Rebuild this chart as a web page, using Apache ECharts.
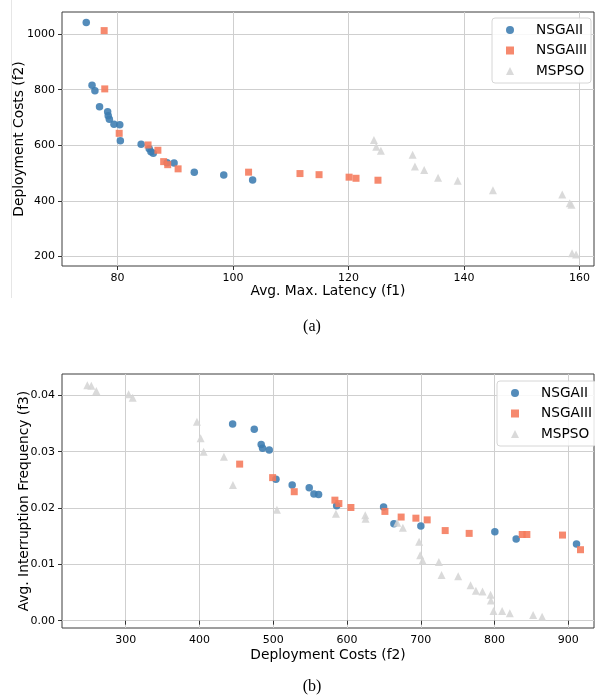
<!DOCTYPE html>
<html>
<head>
<meta charset="utf-8">
<script src="https://cdn.jsdelivr.net/npm/echarts@6/dist/echarts.min.js"></script>
<style>
    html, body { margin: 0; padding: 0; background: #fff; }
    #main { width: 595px; height: 698px; }
</style>
</head>
<body>
<div id="main"></div>
<script>
// (a) latency f1 vs deployment cost f2, [f1, f2]
var nsga2_a = [[74.6, 1042], [75.6, 816], [76.1, 796], [76.9, 739], [78.3, 721], [78.4, 706], [78.6, 694],
    [79.4, 676], [80.4, 674], [80.5, 616], [84.1, 604], [85.5, 587], [85.8, 577], [86.2, 571], [88.6, 537],
    [89.8, 536], [93.3, 503], [98.4, 493], [103.4, 475]];
var nsga3_a = [[77.7, 1013], [77.8, 803], [80.3, 643], [85.3, 601], [87.0, 582], [88.0, 541], [88.7, 530],
    [90.5, 515], [102.7, 503], [111.6, 498], [114.9, 494], [120.1, 485], [121.3, 481], [125.1, 474]];
var mspso_a = [[124.4, 619], [124.8, 595], [125.6, 580], [131.1, 566], [131.5, 523], [133.1, 511], [135.5, 483],
    [138.9, 472], [145.0, 438], [157.0, 423], [158.3, 391], [158.6, 386], [158.7, 211], [159.4, 206]];

// (b) deployment cost f2 vs interruption frequency f3, [f2, f3]
var nsga2_b = [[445, 0.0349], [474.3, 0.0340], [483.7, 0.0313], [485.6, 0.0306], [494.6, 0.0303], [503.7, 0.0251],
    [525.7, 0.0241], [548.8, 0.0236], [555.2, 0.0225], [561.5, 0.0224], [586, 0.0204], [649.6, 0.0202],
    [663.6, 0.0172], [700.1, 0.0168], [800.4, 0.0158], [829.3, 0.0145], [911.1, 0.0136]];
var nsga3_b = [[454.5, 0.0278], [499.2, 0.0254], [528.5, 0.0229], [583.6, 0.0214], [589, 0.0208], [605.3, 0.0201],
    [651.4, 0.0194], [673.4, 0.0184], [693.4, 0.0182], [708.7, 0.0179], [733.1, 0.0160], [765.6, 0.0155],
    [837.5, 0.0153], [843.8, 0.0153], [892.1, 0.0152], [916.5, 0.0126]];
var mspso_b = [[248, 0.0418], [253.4, 0.0417], [260.2, 0.0408], [304, 0.0402], [309.5, 0.0396], [396.6, 0.0353],
    [401.6, 0.0324], [405.7, 0.0300], [433.2, 0.0291], [445.4, 0.0241], [505, 0.0197], [585, 0.0190],
    [624.7, 0.0187], [625.2, 0.0181], [668, 0.0174], [675.7, 0.0165], [697.8, 0.0140], [699.2, 0.0116],
    [702.4, 0.0107], [724.5, 0.0104], [728.2, 0.0081], [750.7, 0.0079], [767.5, 0.0063], [774.7, 0.0053],
    [783.7, 0.0052], [794.6, 0.0046], [795, 0.0036], [798.6, 0.0017], [810.3, 0.0017], [820.7, 0.0013],
    [852.3, 0.0010], [864.5, 0.0007]];

// tick values / labels
var f1Ticks = [80, 100, 120, 140, 160];
var f2TicksA = [200, 400, 600, 800, 1000];
var f2TicksB = [300, 400, 500, 600, 700, 800, 900];
var f3Ticks = [0, 0.01, 0.02, 0.03, 0.04];
var f3TickLabels = ['0.00', '0.01', '0.02', '0.03', '0.04'];

var legendNames = ['NSGAII', 'NSGAIII', 'MSPSO'];

var FONT = 'DejaVu Sans';
var blue = '#3c7cb1',
    orange = '#f5795a',
    grey = '#d5d5d5';

var myChart = echarts.init(document.getElementById('main'), null, {renderer: 'canvas'});

function plainLabel(v) {
    return String(v);
}

function makeAxis(gridIndex, ticks, min, max, name, gap, formatter) {
    return {
        type: 'value',
        gridIndex: gridIndex,
        min: min,
        max: max,
        name: name,
        nameLocation: 'middle',
        nameGap: gap,
        nameMoveOverlap: false,
        nameTextStyle: {fontFamily: FONT, fontSize: 13.8, color: '#000'},
        axisLine: {show: false},
        axisTick: {show: true, length: 4, customValues: ticks, lineStyle: {color: '#333'}},
        axisLabel: {
            customValues: ticks, margin: 7, fontFamily: FONT, fontSize: 11, color: '#000',
            formatter: formatter || plainLabel
        },
        splitLine: {show: true, lineStyle: {color: '#cfcfcf', width: 1}}
    };
}

function makeLegend(left, top) {
    return {
        orient: 'vertical',
        left: left,
        top: top,
        padding: [4, 4, 4, 14],
        itemWidth: 8,
        itemHeight: 8,
        itemGap: 4.5,
        backgroundColor: 'rgba(255,255,255,0.85)',
        borderColor: '#d6d6d6',
        borderWidth: 1,
        borderRadius: 3,
        textStyle: {fontFamily: FONT, fontSize: 13.7, color: '#000', lineHeight: 16, padding: [0, 0, 0, 17]},
        data: legendNames
    };
}

function scatter(name, xi, data, symbol, size, color) {
    return {
        name: name,
        type: 'scatter',
        xAxisIndex: xi,
        yAxisIndex: xi,
        symbol: symbol,
        symbolSize: size,
        itemStyle: {color: color, opacity: 0.88},
        data: data
    };
}

var option = {
    backgroundColor: '#fff',
    animation: false,
    grid: [
        {left: 62, top: 12, right: 1, height: 254, show: true, borderColor: '#3d3d3d', borderWidth: 1},
        {left: 62, top: 374, right: 1, height: 254, show: true, borderColor: '#3d3d3d', borderWidth: 1}
    ],
    xAxis: [
        makeAxis(0, f1Ticks, 70.4, 162.5, 'Avg. Max. Latency (f1)', 18),
        makeAxis(1, f2TicksB, 213.7, 934.8, 'Deployment Costs (f2)', 20)
    ],
    yAxis: [
        makeAxis(0, f2TicksA, 165, 1080, 'Deployment Costs (f2)', 36),
        makeAxis(1, f3Ticks, -0.0013, 0.0438, 'Avg. Interruption Frequency (f3)', 31, function (v) {
            var i = f3Ticks.indexOf(v);
            return i >= 0 ? f3TickLabels[i] : v.toFixed(2);
        })
    ],
    legend: [makeLegend(492, 18), makeLegend(497, 381)],
    series: [
        scatter('NSGAII', 0, nsga2_a, 'circle', 7.5, blue),
        scatter('NSGAIII', 0, nsga3_a, 'rect', 7, orange),
        scatter('MSPSO', 0, mspso_a, 'triangle', 8, grey),
        scatter('NSGAII', 1, nsga2_b, 'circle', 7.5, blue),
        scatter('NSGAIII', 1, nsga3_b, 'rect', 7, orange),
        scatter('MSPSO', 1, mspso_b, 'triangle', 8, grey)
    ],
    graphic: [
        {type: 'line', shape: {x1: 11.5, y1: 0, x2: 11.5, y2: 298}, style: {stroke: '#e6e6e6', lineWidth: 1}},
        {type: 'text', x: 312, y: 327, style: {text: '(a)', font: '16px "Liberation Serif"', fill: '#000',
            textAlign: 'center', textVerticalAlign: 'middle'}},
        {type: 'text', x: 312, y: 687, style: {text: '(b)', font: '16px "Liberation Serif"', fill: '#000',
            textAlign: 'center', textVerticalAlign: 'middle'}}
    ]
};

myChart.setOption(option);
</script>
</body>
</html>
